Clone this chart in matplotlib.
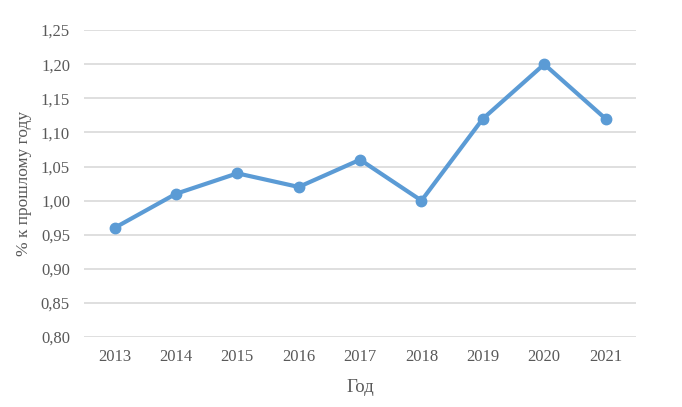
import matplotlib.pyplot as plt
from matplotlib.ticker import FuncFormatter

years = ["2013", "2014", "2015", "2016", "2017", "2018", "2019", "2020", "2021"]
values = [0.96, 1.01, 1.04, 1.02, 1.06, 1.00, 1.12, 1.20, 1.12]
y_ticks = [0.80, 0.85, 0.90, 0.95, 1.00, 1.05, 1.10, 1.15, 1.20, 1.25]

plt.rcParams["font.family"] = ["Liberation Serif", "DejaVu Serif"]

fig = plt.figure(figsize=(6.82, 4.07), dpi=100)
ax = fig.add_axes([0.123, 0.172, 0.81, 0.754])

x = range(len(years))
ax.plot(x, values, color="#5b9bd5", linewidth=3, marker="o", markersize=7.5,
        solid_capstyle="round", zorder=3)

ax.set_xlim(-0.5, len(years) - 0.5)
ax.set_ylim(0.80, 1.25)
ax.set_xticks(list(x))
ax.set_xticklabels(years)
ax.set_yticks(y_ticks)
ax.yaxis.set_major_formatter(FuncFormatter(lambda v, p: f"{v:.2f}".replace(".", ",")))

# grid only, no frame
ax.grid(axis="y", color="#d9d9d9", linewidth=1.2)
ax.set_axisbelow(True)
for s in ax.spines.values():
    s.set_visible(False)
ax.tick_params(axis="x", length=0, labelsize=12, colors="#595959", pad=9)
ax.tick_params(axis="y", length=0, labelsize=12, colors="#595959", pad=10)

ax.set_xlabel("Год", fontsize=13.5, color="#595959", labelpad=10)
ax.set_ylabel("% к прошлому году", fontsize=12.5, color="#595959", labelpad=6)

plt.savefig("out.png")
plt.close()
